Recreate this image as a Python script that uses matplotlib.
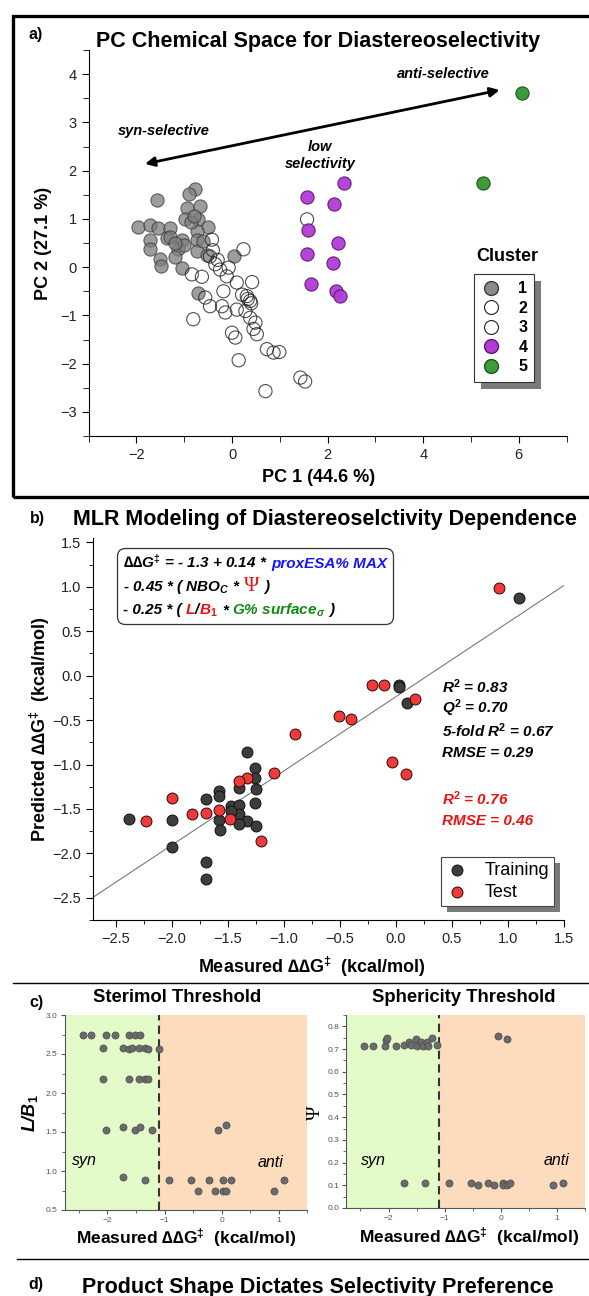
import numpy as np
import matplotlib
import matplotlib.pyplot as plt
from matplotlib.patches import Rectangle
from matplotlib.lines import Line2D
from matplotlib.offsetbox import TextArea, HPacker, VPacker, AnchoredOffsetbox
from matplotlib.ticker import MultipleLocator, FuncFormatter

plt.rcParams['font.family'] = ['Liberation Sans', 'DejaVu Sans']
plt.rcParams['mathtext.fontset'] = 'custom'
plt.rcParams['mathtext.it'] = 'Liberation Sans:italic:bold'
plt.rcParams['mathtext.rm'] = 'Liberation Sans:bold'
plt.rcParams['mathtext.bf'] = 'Liberation Sans:bold'
plt.rcParams['axes.unicode_minus'] = True

# ---- panel a: PCA clusters ----
c1_x = [-1.56, -0.77, -0.91, -0.94, -0.67, -1.96, -1.71, -1.54, -1.29, -0.98, -0.72,
        -0.51, -0.73, -1.71, -1.36, -1.05, -0.73, -1.71, -1.12, -1.19, -0.73, -1.50,
        -1.49, -1.05, -0.52, 0.05, -0.71, -1.29, -0.85, -1.00, -1.20, -0.60, -0.80]
c1_y = [1.40, 1.61, 1.51, 1.23, 1.26, 0.84, 0.88, 0.82, 0.82, 0.99, 0.99,
        0.84, 0.75, 0.57, 0.61, 0.57, 0.57, 0.37, 0.38, 0.22, 0.33, 0.16,
        0.02, -0.01, 0.26, 0.24, -0.54, 0.62, 0.93, 0.45, 0.50, 0.55, 1.05]
c2_x = [-0.42, 0.24, -0.46, -0.35, -0.25, -0.07, -0.84, -0.63, -0.11, 0.10, 0.42,
        -0.18, -0.56, 1.57, -0.40, -0.30]
c2_y = [0.57, 0.37, 0.22, 0.06, -0.05, -0.01, -0.15, -0.20, -0.19, -0.32, -0.31,
        -0.50, -0.63, 0.99, 0.35, 0.15]
c3_x = [0.21, 0.31, 0.38, -0.21, -0.46, 0.10, 0.28, -0.14, 0.38, 0.49, -0.81, 0.45,
        0.52, 0.00, 0.07, 0.73, 0.87, 0.99, 0.14, 1.43, 1.53, 0.70, 0.33, 0.40]
c3_y = [-0.57, -0.60, -0.70, -0.81, -0.81, -0.88, -0.91, -0.94, -1.05, -1.15, -1.08,
        -1.28, -1.39, -1.36, -1.46, -1.70, -1.77, -1.76, -1.93, -2.29, -2.37, -2.57,
        -0.66, -0.75]
c4_x = [2.34, 1.56, 2.14, 1.59, 2.22, 1.56, 2.11, 1.66, 2.18, 2.26]
c4_y = [1.74, 1.46, 1.30, 0.77, 0.49, 0.27, 0.09, -0.36, -0.49, -0.60]
c5_x = [6.07, 5.25]
c5_y = [3.61, 1.74]
arrow_anti = (5.6, 3.67)
arrow_syn = (-1.82, 2.14)

# ---- panel b: MLR predicted vs measured ----
train_meas = [1.10, 0.03, 0.03, 0.10, -1.33, -1.26, -1.26, -1.40, -1.25, -1.58, -1.58,
              -1.69, -1.26, -1.47, -1.40, -1.58, -1.40, -1.33, -1.40, -1.25, -2.38,
              -2.00, -2.00, -1.69, -1.69, -1.57, -1.47]
train_pred = [0.88, -0.10, -0.13, -0.31, -0.86, -1.04, -1.15, -1.26, -1.28, -1.30, -1.35,
              -1.39, -1.43, -1.47, -1.46, -1.62, -1.56, -1.64, -1.67, -1.69, -1.61,
              -1.62, -1.93, -2.10, -2.29, -1.74, -1.52]
test_meas = [0.92, -0.21, -0.11, 0.17, -0.51, -0.40, -0.90, -1.09, -1.33, -1.40, -2.00,
             -1.58, -1.69, -1.82, -1.48, -2.23, -1.20, -0.04, 0.09]
test_pred = [0.99, -0.10, -0.11, -0.26, -0.45, -0.49, -0.66, -1.09, -1.15, -1.19, -1.38,
             -1.51, -1.54, -1.56, -1.61, -1.64, -1.86, -0.97, -1.11]
fit_slope, fit_intercept = 0.836, -0.236
stats_train = ['R$^2$ = 0.83', 'Q$^2$ = 0.70', '5-fold R$^2$ = 0.67', 'RMSE = 0.29']
stats_test = ['R$^2$ = 0.76', 'RMSE = 0.46']

# ---- panel c: thresholds ----
lb_meas = [-2.43, -2.28, -2.03, -1.86, -1.62, -1.52, -1.43,
           -2.07, -1.73, -1.62, -1.57, -1.45, -1.34, -1.29, -1.10,
           -2.07, -1.62, -1.44, -1.34, -1.29,
           -2.03, -1.73, -1.52, -1.43, -1.22, -0.06, 0.08,
           -1.73, -1.35, -0.93, -0.53, -0.22, 0.02, 0.16, 1.10,
           -0.41, -0.12, 0.02, 0.08, 0.92]
lb_val = [2.75, 2.75, 2.75, 2.75, 2.75, 2.75, 2.75,
          2.58, 2.58, 2.57, 2.58, 2.58, 2.58, 2.57, 2.56,
          2.18, 2.18, 2.18, 2.18, 2.18,
          1.52, 1.56, 1.52, 1.57, 1.52, 1.53, 1.59,
          0.92, 0.88, 0.88, 0.88, 0.88, 0.88, 0.88, 0.88,
          0.74, 0.74, 0.74, 0.74, 0.74]
psi_meas = [-2.44, -2.28, -2.07, -2.05, -2.03, -1.87, -1.73, -1.63, -1.60, -1.52, -1.50,
            -1.42, -1.38, -1.32, -1.30, -1.23, -1.13, -0.06, 0.10,
            -1.73, -1.36, -0.93, -0.53, -0.41, -0.23, -0.12, 0.03, 0.03, 0.11, 0.16,
            0.93, 1.11]
psi_val = [0.715, 0.715, 0.715, 0.74, 0.75, 0.715, 0.72, 0.73, 0.72, 0.746, 0.715,
           0.73, 0.715, 0.73, 0.715, 0.75, 0.72, 0.756, 0.745,
           0.11, 0.11, 0.11, 0.11, 0.10, 0.11, 0.10, 0.11, 0.10, 0.10, 0.11,
           0.10, 0.11]
threshold = -1.1

W, H = 589, 1296
fig = plt.figure(figsize=(W / 100, H / 100), dpi=100)

DDG = '\u2206\u2206G$^{\\ddagger}$'


def px_box(x0, y0, x1, y1):
    return [x0 / W, 1 - y1 / H, (x1 - x0) / W, (y1 - y0) / H]


def ftext(x, y, s, **kw):
    fig.text(x / W, 1 - y / H, s, **kw)


def style_axes(ax, size=10.5, color='#222222', major=5, minor=3):
    for sp in ['top', 'right']:
        ax.spines[sp].set_visible(False)
    ax.tick_params(which='both', direction='out', labelsize=size, labelcolor=color)
    ax.tick_params(which='major', length=major)
    ax.tick_params(which='minor', length=minor)


def add_shadow(ax, leg, dx, dy):
    bb = leg.get_window_extent().transformed(ax.transAxes.inverted())
    ax.add_patch(Rectangle((bb.x0 + dx, bb.y0 - dy), bb.width, bb.height,
                           transform=ax.transAxes, facecolor='#7a7a7a',
                           edgecolor='none', zorder=4, clip_on=False))


one_dec = FuncFormatter(lambda v, p: f'{v:.1f}'.replace('-', '\u2212'))

# ================= panel a =================
fig.patches.append(Rectangle((13 / W, 1 - 497 / H), 600 / W, 481 / H, transform=fig.transFigure,
                             fill=False, edgecolor='black', linewidth=2.4))
ftext(36, 35, 'a)', fontsize=11.5, fontweight='bold', ha='center', va='center')
ftext(318, 41, 'PC Chemical Space for Diastereoselectivity', fontsize=15.5,
      fontweight='bold', ha='center', va='center')

axa = fig.add_axes(px_box(88.6, 50, 566.6, 436))
axa.patch.set_visible(False)
style_axes(axa, major=5, minor=4)
axa.set_xlim(-3, 7)
axa.set_ylim(-3.5, 4.5)
axa.xaxis.set_major_locator(MultipleLocator(2))
axa.xaxis.set_minor_locator(MultipleLocator(1))
axa.yaxis.set_major_locator(MultipleLocator(1))
axa.yaxis.set_minor_locator(MultipleLocator(0.5))

s_a = 90
axa.scatter(c1_x, c1_y, s=s_a, facecolor='#7d7d7d', edgecolor='#3a3a3a', alpha=0.75,
            linewidth=0.8, zorder=3)
axa.scatter(c2_x, c2_y, s=s_a, facecolor='none', edgecolor='#222222', alpha=0.8,
            linewidth=0.8, zorder=3)
axa.scatter(c3_x, c3_y, s=s_a, facecolor='none', edgecolor='#222222', alpha=0.8,
            linewidth=0.8, zorder=3)
axa.scatter(c4_x, c4_y, s=s_a, facecolor='#b23cd8', edgecolor='#5c1a70', alpha=0.95,
            linewidth=0.8, zorder=3)
axa.scatter(c5_x, c5_y, s=s_a, facecolor='#3c9c3c', edgecolor='#1d561d',
            linewidth=0.8, zorder=3)

axa.annotate('', xy=arrow_anti, xytext=arrow_syn,
             arrowprops=dict(arrowstyle='<|-|>', color='black', lw=2.0, mutation_scale=14,
                             shrinkA=0, shrinkB=0))
note = dict(fontsize=10.5, fontweight='bold', style='italic', ha='center', va='center')
axa.text(4.42, 4.01, 'anti-selective', **note)
axa.text(-1.43, 2.83, 'syn-selective', **note)
axa.text(1.85, 2.31, 'low\nselectivity', linespacing=1.3, **note)
axa.text(5.76, 0.21, 'Cluster', fontsize=13, fontweight='bold', ha='center', va='center')

handles_a = [
    Line2D([], [], ls='none', marker='o', ms=10, mfc='#8a8a8a', mec='#3a3a3a'),
    Line2D([], [], ls='none', marker='o', ms=10, mfc='white', mec='#222222', mew=0.8),
    Line2D([], [], ls='none', marker='o', ms=10, mfc='white', mec='#222222', mew=0.8),
    Line2D([], [], ls='none', marker='o', ms=10, mfc='#b23cd8', mec='#5c1a70'),
    Line2D([], [], ls='none', marker='o', ms=10, mfc='#3c9c3c', mec='#1d561d'),
]
leg_a = axa.legend(handles_a, ['1', '2', '3', '4', '5'], loc='upper left',
                   bbox_to_anchor=(0.807, 0.419), borderaxespad=0, frameon=True,
                   fancybox=False, framealpha=1, edgecolor='#333333',
                   prop=dict(weight='bold', size=11.5), labelspacing=0.28,
                   handletextpad=1.1, borderpad=0.45, handlelength=1.2)
leg_a.get_frame().set_linewidth(0.8)

ftext(43, 243, 'PC 2 (27.1 %)', fontsize=13, fontweight='bold', rotation=90,
      ha='center', va='center')
ftext(319, 478, 'PC 1 (44.6 %)', fontsize=13, fontweight='bold', ha='center', va='center')

# ================= panel b =================
ftext(37, 518, 'b)', fontsize=11.5, fontweight='bold', ha='center', va='center')
ftext(325, 520, 'MLR Modeling of Diastereoselctivity Dependence', fontsize=15.5,
      fontweight='bold', ha='center', va='center')

axb = fig.add_axes(px_box(93.2, 538, 564.2, 920))
axb.patch.set_visible(False)
style_axes(axb, major=5, minor=3)
axb.set_xlim(-2.7, 1.5)
axb.set_ylim(-2.75, 1.55)
axb.xaxis.set_major_locator(MultipleLocator(0.5))
axb.xaxis.set_minor_locator(MultipleLocator(0.25))
axb.yaxis.set_major_locator(MultipleLocator(0.5))
axb.yaxis.set_minor_locator(MultipleLocator(0.25))
axb.xaxis.set_major_formatter(one_dec)
axb.yaxis.set_major_formatter(one_dec)

xl = np.array(axb.get_xlim())
axb.plot(xl, fit_slope * xl + fit_intercept, color='#7a7a7a', lw=0.8, zorder=2)
s_b = 62
axb.scatter(train_meas, train_pred, s=s_b, facecolor='#3d3d3d', edgecolor='#111111',
            linewidth=0.7, zorder=3, label='Training')
axb.scatter(test_meas, test_pred, s=s_b, facecolor='#f03a3a', edgecolor='#2a0a0a',
            linewidth=0.7, zorder=4, label='Test')

leg_b = axb.legend(loc='upper left', bbox_to_anchor=(0.738, 0.166), borderaxespad=0,
                   frameon=True, fancybox=False, framealpha=1, edgecolor='#444444',
                   fontsize=13, handletextpad=0.9, labelspacing=0.25, borderpad=0.3,
                   handlelength=1.2)
leg_b.get_frame().set_linewidth(0.8)


def ta(s, color='black', **kw):
    props = dict(color=color, fontsize=11, fontweight='bold', fontstyle='italic')
    props.update(kw)
    return TextArea(s, textprops=props)


def row(parts, sep=3):
    return HPacker(children=parts, pad=0, sep=sep, align='baseline')


line1 = row([ta(DDG + ' = - 1.3 + 0.14 *'), ta('proxESA% MAX', '#1515ff')])
line2 = row([ta('- 0.45 * ( NBO$_C$ *'),
             ta('\u03a8', '#ee1111', family='Liberation Serif', fontsize=15,
                fontweight='normal', fontstyle='normal'),
             ta(')')])
line3 = row([ta('- 0.25 * ('),
             row([ta('L', '#ee1111'), ta('/'), ta('B$_1$', '#ee1111')], sep=0),
             ta('*'), ta('G% surface$_\\sigma$', '#118811'), ta(')')])
eq = VPacker(children=[line1, line2, line3], pad=0, sep=4, align='left')
eq_box = AnchoredOffsetbox(loc='upper left', child=eq, pad=0.4, borderpad=0,
                           bbox_to_anchor=(0.0505, 0.975), bbox_transform=axb.transAxes,
                           frameon=True)
eq_box.patch.set_boxstyle('round,pad=0,rounding_size=0.6')
eq_box.patch.set_edgecolor('#333333')
eq_box.patch.set_linewidth(0.9)
axb.add_artist(eq_box)

stat_x = 0.41
for i, s in enumerate(stats_train):
    axb.text(stat_x, -0.12 - 0.25 * i, s, color='black', fontsize=11, fontweight='bold',
             style='italic', ha='left', va='center')
for i, s in enumerate(stats_test):
    axb.text(stat_x, -1.38 - 0.25 * i, s, color='#ee1111', fontsize=11, fontweight='bold',
             style='italic', ha='left', va='center')

ftext(40, 729, 'Predicted ' + DDG + '  (kcal/mol)', fontsize=13, fontweight='bold',
      rotation=90, ha='center', va='center')
ftext(312, 967, 'Measured ' + DDG + '  (kcal/mol)', fontsize=13, fontweight='bold',
      ha='center', va='center')

fig.add_artist(Line2D([13 / W, 1.0], [1 - 983 / H, 1 - 983 / H], transform=fig.transFigure,
                      color='black', lw=1.0))

# ================= panel c =================
ftext(36, 1002, 'c)', fontsize=11.5, fontweight='bold', ha='center', va='center')
ftext(177, 998, 'Sterimol Threshold', fontsize=13.3, fontweight='bold', ha='center',
      va='center')
ftext(464, 997, 'Sphericity Threshold', fontsize=13.3, fontweight='bold', ha='center',
      va='center')

c_specs = [
    (px_box(64.6, 1015, 307.3, 1210), lb_meas, lb_val, (0.5, 3.0), 0.5, 0.25,
     (-2.41, 1.14), (0.86, 1.11)),
    (px_box(346.4, 1015, 585.3, 1208), psi_meas, psi_val, (0.0, 0.85), 0.1, 0.05,
     (-2.27, 0.21), (0.98, 0.21)),
]
for box, xs, ys, ylim, ymaj, ymin, syn_pos, anti_pos in c_specs:
    ax = fig.add_axes(box)
    style_axes(ax, size=6, color='#555555', major=3, minor=2)
    ax.spines['left'].set_color('#555555')
    ax.spines['bottom'].set_color('#555555')
    ax.tick_params(which='both', color='#555555', pad=2)
    ax.set_xlim(-2.75, 1.5)
    ax.set_ylim(*ylim)
    ax.axvspan(-2.75, threshold, color='#e3fbc8', zorder=0, lw=0)
    ax.axvspan(threshold, 1.5, color='#fddcbd', zorder=0, lw=0)
    ax.axvline(threshold, color='#333333', lw=1.5, ls=(0, (4, 2.5)), zorder=2)
    ax.xaxis.set_major_locator(MultipleLocator(1))
    ax.xaxis.set_minor_locator(MultipleLocator(0.5))
    ax.yaxis.set_major_locator(MultipleLocator(ymaj))
    ax.yaxis.set_minor_locator(MultipleLocator(ymin))
    ax.yaxis.set_major_formatter(one_dec)
    ax.scatter(xs, ys, s=26, facecolor='#6b6b6b', edgecolor='#4a4a4a', linewidth=0.5,
               zorder=3)
    ax.text(*syn_pos, 'syn', fontsize=11.5, style='italic', ha='center', va='center')
    ax.text(*anti_pos, 'anti', fontsize=11.5, style='italic', ha='center', va='center')

ftext(30, 1113, 'L/B$_1$', fontsize=13, fontweight='bold', style='italic', rotation=90,
      ha='center', va='center')
ftext(315, 1113, '\u03a8', fontsize=14, family='Liberation Serif', rotation=90,
      ha='center', va='center')
ftext(186, 1238, 'Measured ' + DDG + '  (kcal/mol)', fontsize=12.5, fontweight='bold',
      ha='center', va='center')
ftext(469, 1237, 'Measured ' + DDG + '  (kcal/mol)', fontsize=12.5, fontweight='bold',
      ha='center', va='center')

fig.add_artist(Line2D([17 / W, 1.0], [1 - 1259 / H, 1 - 1259 / H], transform=fig.transFigure,
                      color='black', lw=1.0))

# ================= panel d (cut off at the bottom edge) =================
ftext(36, 1285, 'd)', fontsize=11.5, fontweight='bold', ha='center', va='center')
ftext(318, 1288, 'Product Shape Dictates Selectivity Preference', fontsize=15.5,
      fontweight='bold', ha='center', va='center')

fig.canvas.draw()
add_shadow(axa, leg_a, 7 / 478, 7 / 386)
add_shadow(axb, leg_b, 6 / 471, 6 / 382)

fig.savefig('out.png', dpi=100)
